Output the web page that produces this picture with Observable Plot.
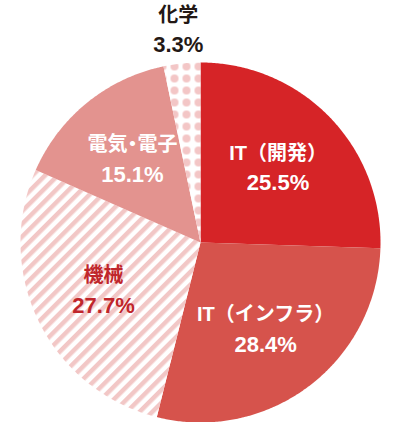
<!DOCTYPE html>
<html><head><meta charset="utf-8">
<script src="https://cdn.jsdelivr.net/npm/d3@7"></script>
<script src="https://cdn.jsdelivr.net/npm/@observablehq/plot@0.6"></script>
<style>body{margin:0;background:#fff;} svg{display:block;}</style>
</head><body><div id="chart"></div>
<script>
const categories = ["IT（開発）", "IT（インフラ）", "機械", "電気・電子", "化学"];
const shares = [25.5, 28.4, 27.7, 15.1, 3.3];

const pie = d3.pie().sort(null).startAngle(0).endAngle(2 * Math.PI)(shares);

const slicePts = [];
const labelRows = [];
pie.forEach((s, i) => {
  const cat = categories[i];
  slicePts.push({category: cat, x: 0, y: 0});
  const n = Math.max(8, Math.ceil((s.endAngle - s.startAngle) / (Math.PI / 360)));
  for (let k = 0; k <= n; k++) {
    const a = s.startAngle + (s.endAngle - s.startAngle) * k / n;
    slicePts.push({category: cat, x: Math.sin(a), y: Math.cos(a)});
  }
  const mid = (s.startAngle + s.endAngle) / 2;
  const r = shares[i] < 5 ? 1.19 : 0.6;
  labelRows.push({category: cat, x: r * Math.sin(mid), y: r * Math.cos(mid),
    pct: shares[i].toFixed(1) + "%", inside: shares[i] >= 5});
});

const font = "'Liberation Sans', Arial, 'Noto Sans CJK JP', sans-serif";
const nameOpts = {x: "x", y: "y", text: "category", fontSize: 20, fontWeight: "bold",
  fontFamily: font, textAnchor: "middle", dy: -14};
const pctOpts = {x: "x", y: "y", text: "pct", fontSize: 22, fontWeight: "bold",
  fontFamily: font, textAnchor: "middle", dy: 16};

function labels(rows, fill) {
  return [Plot.text(rows, {...nameOpts, fill}), Plot.text(rows, {...pctOpts, fill})];
}

const chart = Plot.plot({
  width: 400, height: 422, margin: 0,
  x: {domain: [-200 / 180, 200 / 180], axis: null},
  y: {domain: [-1, 242 / 180], axis: null},
  color: {domain: categories, range: ["#d62427", "#d6534c", "url(#stripes)", "#e3938f", "url(#dots)"]},
  marks: [
    Plot.line(slicePts, {x: "x", y: "y", z: "category", fill: "category", stroke: "none", curve: "linear-closed"}),
    ...labels(labelRows.filter(d => d.inside && d.category !== "機械"), "#ffffff"),
    ...labels(labelRows.filter(d => d.category === "機械"), "#c0262b"),
    ...labels(labelRows.filter(d => !d.inside), "#231815")
  ]
});

d3.select(chart).selectAll("text")
  .filter(function() { return this.textContent.includes("・"); })
  .style("font-feature-settings", "'palt'");

const defs = d3.select(chart).insert("defs", ":first-child");
const stripes = defs.append("pattern").attr("id", "stripes").attr("patternUnits", "userSpaceOnUse")
  .attr("width", 9).attr("height", 9).attr("patternTransform", "rotate(45)");
stripes.append("rect").attr("width", 9).attr("height", 9).attr("fill", "#ffffff");
stripes.append("rect").attr("width", 4.5).attr("height", 9).attr("fill", "#f2c7c6");
const dots = defs.append("pattern").attr("id", "dots").attr("patternUnits", "userSpaceOnUse")
  .attr("width", 12).attr("height", 12);
dots.append("rect").attr("width", 12).attr("height", 12).attr("fill", "#ffffff");
dots.append("circle").attr("cx", 6).attr("cy", 6).attr("r", 4).attr("fill", "#f3c6c6");

document.getElementById("chart").appendChild(chart);
</script>
</body></html>
